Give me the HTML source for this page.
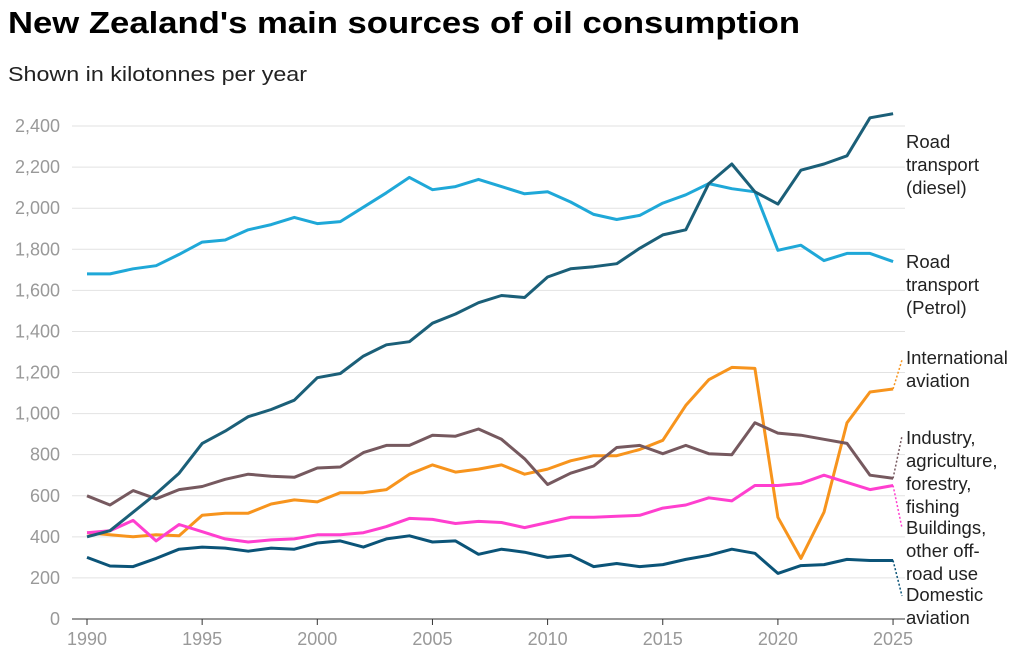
<!DOCTYPE html>
<html><head><meta charset="utf-8"><style>
html,body{margin:0;padding:0;background:#fff;}
svg{display:block;font-family:"Liberation Sans",sans-serif;}
</style></head><body>
<svg id="s" width="1024" height="672" viewBox="0 0 1024 672">
<text x="8" y="33" font-size="31" font-weight="bold" fill="#000" textLength="792" lengthAdjust="spacingAndGlyphs">New Zealand's main sources of oil consumption</text>
<text x="8" y="81" font-size="20" fill="#222" textLength="299" lengthAdjust="spacingAndGlyphs">Shown in kilotonnes per year</text>
<g id="g"></g>
</svg>
<script>
var g=document.getElementById('g'),NS='http://www.w3.org/2000/svg';
function X(y){return 87+(y-1990)*23.03;}
function Y(v){return 619-v*0.2054;}
function el(t,a,txt){var e=document.createElementNS(NS,t);for(var k in a)e.setAttribute(k,a[k]);if(txt!=null)e.textContent=txt;g.appendChild(e);return e;}
for(var v=0;v<=2400;v+=200){
 var y=Y(v);
 el('line',{x1:72,x2:905,y1:y,y2:y,stroke:v==0?'#333':'#e2e2e2','stroke-width':1});
 el('text',{x:60,y:y+6,'font-size':18,fill:'#999','text-anchor':'end'},v.toLocaleString('en-US'));
}
for(var yr=1990;yr<=2025;yr+=5){
 el('line',{x1:X(yr),x2:X(yr),y1:619,y2:625,stroke:'#333'});
 el('text',{x:X(yr),y:645,'font-size':18,fill:'#999','text-anchor':'middle'},yr);
}
var S=[
['#1fa8d8',[1680,1680,1705,1720,1775,1835,1845,1895,1920,1955,1925,1935,2005,2075,2150,2090,2105,2140,2105,2070,2080,2030,1970,1945,1965,2025,2065,2120,2095,2080,1795,1820,1745,1780,1780,1740]],
['#f7941d',[420,410,400,410,405,505,515,515,560,580,570,615,615,630,705,750,715,730,750,705,730,770,795,795,825,870,1040,1165,1225,1220,495,295,520,955,1105,1120]],
['#76595f',[600,555,625,585,630,645,680,705,695,690,735,740,810,845,845,895,890,925,875,780,655,710,745,835,845,805,845,805,800,955,905,895,875,855,700,685]],
['#ff3fcf',[420,430,480,380,460,425,390,375,385,390,410,410,420,450,490,485,465,475,470,445,470,495,495,500,505,540,555,590,575,650,650,660,700,665,630,650]],
['#0b5478',[300,258,255,295,340,350,345,330,345,340,370,380,350,390,405,375,380,315,340,325,300,310,255,270,255,265,290,310,340,320,222,260,265,290,285,285]],
['#1b5f78',[400,430,520,610,710,855,915,985,1020,1065,1175,1195,1280,1335,1350,1440,1485,1540,1575,1565,1665,1705,1715,1730,1805,1870,1895,2120,2215,2080,2020,2185,2215,2255,2440,2460]]
];
S.forEach(function(s){
 var p=s[1].map(function(v,i){return X(1990+i).toFixed(1)+','+Y(v).toFixed(1);}).join(' ');
 el('polyline',{points:p,fill:'none',stroke:s[0],'stroke-width':3,'stroke-linejoin':'round'});
});
function lead(c,v,ty){el('line',{x1:X(2025),y1:Y(v),x2:902,y2:ty,stroke:c,'stroke-width':1.5,'stroke-dasharray':'2,2'});}
lead('#f7941d',1120,360);lead('#76595f',685,436);lead('#ff3fcf',650,528);lead('#0b5478',285,596);
var L=[[148,['Road','transport','(diesel)']],[268,['Road','transport','(Petrol)']],[364,['International','aviation']],[444,['Industry,','agriculture,','forestry,','fishing']],[534,['Buildings,','other off-','road use']],[601,['Domestic','aviation']]];
L.forEach(function(l){l[1].forEach(function(t,i){el('text',{x:906,y:l[0]+i*23,'font-size':18.5,fill:'#222'},t);});});
</script>
</body></html>
